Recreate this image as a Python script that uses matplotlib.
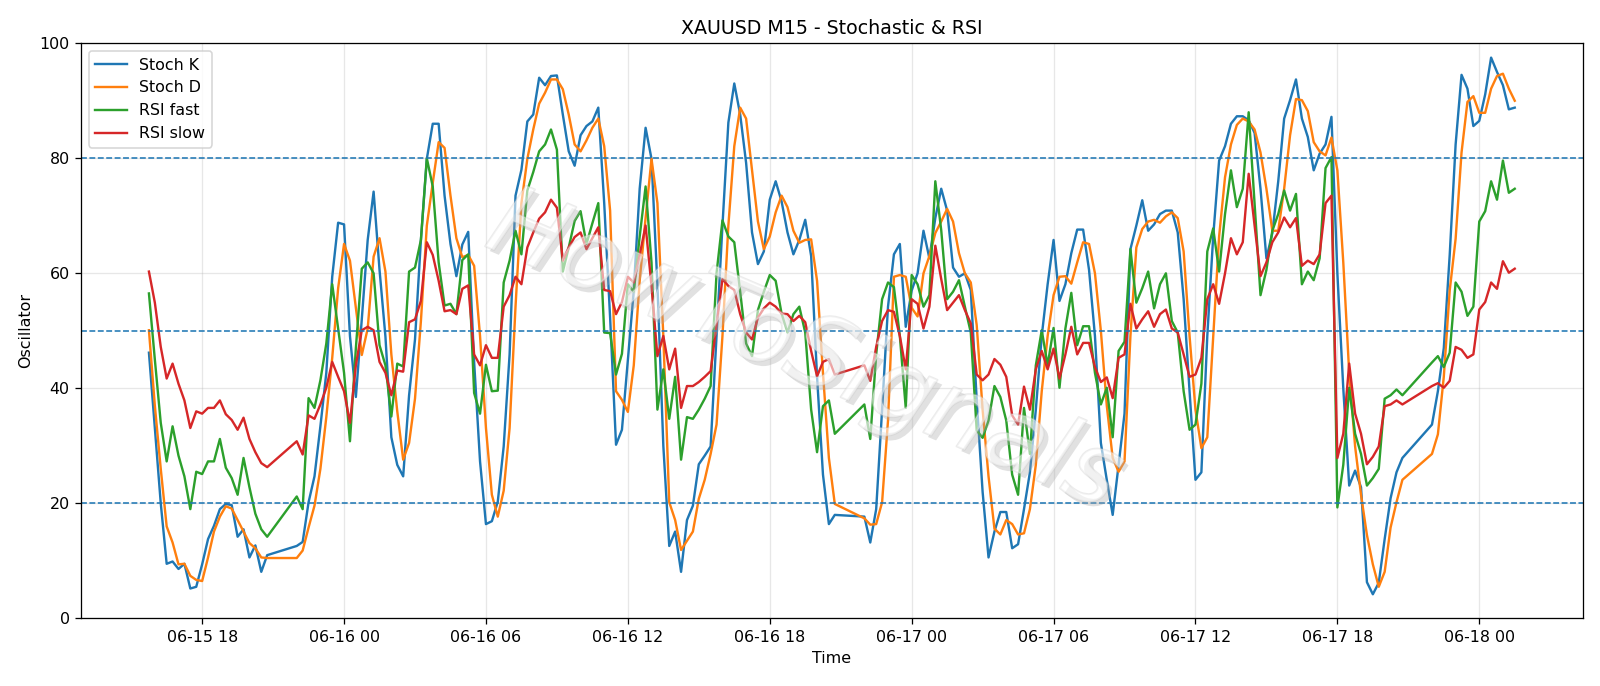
import matplotlib
matplotlib.use("Agg")
import matplotlib.pyplot as plt
import matplotlib.dates as mdates
import matplotlib.patheffects as pe
import pandas as pd

# sessions of M15 bars (daily break between 20:45 and 22:00)
sessions = [("2025-06-15 15:45", 21), ("2025-06-15 22:00", 92),
            ("2025-06-16 22:00", 92), ("2025-06-17 22:00", 15)]

stoch_k = [
    # 06-15 15:45 - 20:45
    46.2, 33, 20, 9.5, 9.9, 8.6, 9.5, 5.2, 5.5, 9.4, 13.8, 16.1, 19.0, 19.9, 19.7, 14.2, 15.5, 10.6, 12.7, 8.1, 11.0,
    # 06-15 22:00 - 06-16 20:45
    12.6, 13.3, 20.2, 24.7, 33.4, 42.7, 59.4, 68.8,
    68.5, 49.1, 38.5, 52, 65.8, 74.2, 60.6, 49.0, 31.5, 26.7, 24.7, 38.8,
    48.5, 65.8, 79.9, 86.0, 86.0, 73.5, 65.1, 59.5, 65.0, 67.2, 44.6, 27.3,
    16.4, 16.9, 20.3, 29.9, 45.9, 73.5, 78.0, 86.4, 87.6, 94.0, 92.7, 94.3,
    94.4, 87.6, 81.2, 78.7, 84.0, 85.6, 86.4, 88.8, 72.2, 52.3, 30.2, 32.8,
    45, 57, 74.7, 85.3, 79.9, 58, 30, 12.6, 15.1, 8.1, 17.1, 19.6,
    26.8, 28.3, 29.9, 49, 68.3, 86.2, 93.0, 87.6, 79.2, 67.1, 61.6, 63.8,
    72.8, 76.0, 72.5, 67.1, 63.3, 65.8, 69.3, 63, 42, 25, 16.4, 18.0,
    # 06-16 22:00 - 06-17 20:45
    17.7, 13.2, 19.0, 36.3, 54.2, 63.3, 65.1, 50.7,
    57, 60, 67.4, 62.6, 69.6, 74.7, 70.9, 61.0, 59.4, 60.0, 57.1, 38,
    22, 10.6, 15.1, 18.5, 18.5, 12.2, 12.9, 19.0, 25.4, 36.3, 49.1, 58.1,
    65.8, 55.2, 58.1, 63.5, 67.6, 67.6, 60.6, 49.1, 30.5, 24.1, 18.0, 26.7,
    35.6, 64.2, 68.3, 72.7, 67.4, 68.5, 70.3, 70.9, 70.9, 67.1, 55.5, 39.5,
    24.1, 25.4, 49.1, 66.4, 79.6, 82.1, 86.0, 87.3, 87.3, 86.6, 84.4, 74.7,
    62.6, 67, 76, 86.9, 90.1, 93.7, 86.9, 83.7, 77.9, 80.8, 82.4, 87.2,
    60, 40, 23.1, 25.7, 22.8, 6.3, 4.2, 6.2, 13.8, 20.9, 25.4, 27.9,
    # 06-17 22:00 - 06-18 01:30
    33.7, 39.5, 47, 63.2, 82.4, 94.5, 92.1, 85.6, 86.5, 91.1, 97.5, 95.0, 92.7, 88.5, 88.8,
]

stoch_d = [
    50.1, 37, 26, 16, 13.2, 9.4, 9.5, 7.4, 6.7, 6.5, 10.6, 15.1, 17.7, 19.5, 19.1, 17.1, 15.1, 13.1, 12.2, 10.6, 10.5,
    10.5, 11.8, 15.8, 19.6, 26.0, 35.0, 45.3, 57.4,
    65.1, 62.2, 54, 45.8, 50.4, 62.9, 66.1, 60.3, 45.9, 36, 27.6, 30.5,
    38.2, 51.7, 68.3, 75.7, 82.8, 81.8, 73.5, 66.1, 62.8, 63.2, 61.3, 49.1,
    33.1, 21.5, 17.7, 22.2, 33.1, 54.2, 72.2, 79.9, 85.0, 89.5, 91.4, 93.7,
    93.7, 92.0, 87.6, 82.4, 81.2, 83.1, 85.3, 86.9, 82.1, 70.9, 39.5, 38,
    35.9, 44, 58.7, 69.6, 79.9, 72.2, 49.1, 20.2, 17.1, 11.9, 13.5, 15.1,
    20.8, 24.1, 28.6, 33.7, 49.1, 68.3, 82.1, 88.8, 86.9, 77.9, 69.0, 64.2,
    66.4, 70.6, 73.5, 71.5, 67.4, 65.3, 65.8, 65.9, 58.7, 42.7, 27.9, 19.9,
    17.4, 16.3, 16.4, 20.2, 34.4, 59.4, 59.7, 59.4,
    54, 52.5, 60, 63, 67, 69, 71.2, 69.0, 63.5, 60.0, 58.4, 51,
    36.3, 24.7, 15.6, 14.6, 17.1, 16.4, 14.6, 14.8, 19.0, 26.7, 39.5, 49.1,
    56.2, 59.4, 59.5, 58.2, 61.9, 65.4, 65.1, 60.0, 50, 37, 27.9, 25.5,
    27.3, 49.1, 64.5, 67.7, 69.0, 69.3, 68.8, 69.9, 70.6, 69.6, 63.8, 49.1,
    36.3, 29.6, 31.5, 49.1, 66.4, 76.7, 82.4, 85.8, 86.9, 86.4, 85.0, 81,
    74.7, 67.4, 67.4, 74.7, 84.0, 90.3, 90.1, 88.2, 82.8, 81.2, 80.5, 83.6,
    77.9, 61.9, 42.7, 29.9, 21.5, 14.5, 9.4, 5.5, 8.1, 15.8, 20.2, 24.1,
    28.6, 32, 42, 57, 66, 81, 89.8, 90.8, 87.9, 87.9, 92.1, 94.3, 94.7, 92.1, 90.0,
]

rsi_fast = [
    56.5, 45, 34, 27.3, 33.4, 28.3, 24.7, 19.0, 25.5, 25.1, 27.3, 27.3, 31.2, 26.2, 24.4, 21.5, 27.9, 22.8, 18.2, 15.5, 14.2,
    21.2, 19.0, 38.3, 36.6, 41.4, 47.8, 58.1, 50.4,
    42.7, 30.8, 47, 60.8, 61.9, 60.0, 47.5, 44.0, 35.1, 44.3, 43.8, 60.3,
    61.0, 65.8, 80.0, 75.1, 61.9, 54.4, 54.7, 52.9, 62.3, 63.3, 39.2, 35.6,
    44.1, 39.5, 39.6, 58.4, 62.2, 67.4, 63.3, 74.4, 77.6, 81.2, 82.4, 85.0,
    81.5, 60.3, 64.5, 69.1, 70.8, 65.1, 68.7, 72.2, 49.7, 49.6, 42.4, 46,
    58.1, 56.8, 66.4, 75.1, 61.9, 36.3, 43.3, 34.7, 42.0, 27.6, 35.0, 34.7,
    36.3, 38.2, 40.4, 60.0, 69.2, 66.4, 65.4, 56.8, 47.8, 45.6, 53.6, 56.8,
    59.7, 58.7, 53, 49.7, 52.9, 54.2, 49.7, 36.3, 28.9, 36.9, 37.9, 32.1,
    37.2, 31.2, 45.9, 55.5, 58.4, 57.6, 49.1, 36.6,
    59.7, 58.1, 54.2, 56.2, 76.0, 67.5, 55.5, 56.8, 58.8, 54.2, 49.7, 32.7,
    31.4, 34.4, 40.4, 38.5, 34.4, 25.0, 21.5, 36.6, 28.6, 44.0, 50.1, 44.0,
    50.5, 40.1, 50.4, 56.6, 47.5, 50.8, 50.8, 42.7, 37.2, 40.1, 31.5, 46.5,
    48.1, 64.2, 54.9, 57.4, 60.3, 53.9, 58.1, 60.0, 51.7, 49.7, 39.5, 32.8,
    33.7, 40.8, 63.8, 67.8, 60.3, 70.3, 77.9, 71.5, 74.7, 88.0, 72, 56.2,
    60.6, 67.4, 70.3, 74.4, 70.9, 73.8, 58.1, 60.3, 58.8, 62.6, 78.3, 80.2,
    19.3, 26.7, 40.1, 32.1, 28.6, 23.1, 24.4, 26.0, 38.2, 38.8, 39.8, 38.8,
    44.5, 45.6, 43.7, 46.2, 58.4, 56.8, 52.6, 54.2, 69.0, 70.8, 76.0, 72.8, 79.6, 74.0, 74.7,
]

rsi_slow = [
    60.3, 54.9, 47.2, 41.7, 44.3, 40.8, 37.9, 33.1, 36.0, 35.6, 36.6, 36.6, 37.9, 35.5, 34.5, 32.8, 34.9, 31.2, 28.9, 27.0, 26.3,
    30.8, 28.5, 35.3, 34.7, 37.2, 40.1, 44.6, 42.0,
    39.5, 34.0, 44, 50.1, 50.7, 50.1, 44.6, 42.7, 38.8, 43.1, 42.9, 51.5,
    52.0, 55.2, 65.4, 63.2, 58.7, 53.4, 53.6, 52.9, 57.3, 57.9, 45.9, 44.0,
    47.5, 45.3, 45.3, 54.2, 56.2, 59.4, 58.1, 64.5, 67.1, 69.5, 70.6, 72.8,
    71.4, 62.2, 64.5, 66.3, 67.1, 64.2, 66.1, 68.0, 57.1, 56.9, 52.9, 55,
    59.4, 58.4, 63.2, 68.3, 57.8, 45.6, 49.1, 43.3, 46.9, 36.6, 40.4, 40.4,
    41.1, 42.0, 43.0, 51.0, 59.0, 57.8, 57.1, 52.9, 49.7, 48.5, 52.3, 53.9,
    54.9, 54.2, 53, 52.9, 51.7, 52.6, 51.5, 46.5, 42.1, 44.6, 45.1, 42.4,
    44.0, 41.3, 47.2, 51.7, 53.6, 53.3, 49.1, 43.3,
    55.5, 54.7, 50.4, 54.2, 64.8, 59, 53.6, 54.9, 56.2, 53.6, 51.3, 42.4,
    41.4, 42.4, 45.1, 44.1, 42.0, 35.3, 33.7, 40.3, 36.3, 43.3, 46.5, 43.3,
    46.9, 41.7, 45.9, 50.7, 45.9, 47.9, 47.9, 43.7, 41.1, 41.9, 38.3, 45.3,
    45.9, 54.7, 50.4, 52.0, 53.4, 50.7, 52.9, 53.7, 50.4, 49.7, 45.9, 42.0,
    42.4, 45.3, 55.5, 58.1, 54.7, 60.0, 66.1, 63.3, 65.4, 77.3, 68.3, 59.5,
    61.9, 65.4, 67.1, 69.7, 68.0, 69.6, 61.3, 62.2, 61.6, 63.3, 72.2, 73.5,
    27.9, 32.1, 44.3, 35.6, 32.1, 26.8, 28.1, 29.9, 36.9, 37.2, 37.9, 37.2,
    40.4, 40.9, 40.1, 41.3, 47.2, 46.7, 45.3, 45.9, 53.7, 55.0, 58.4, 57.3, 62.1, 60.1, 60.8,
]

levels = [20, 50, 80]

# build timestamps for each bar
times = pd.DatetimeIndex([])
for start, n in sessions:
    times = times.append(pd.date_range(start, periods=n, freq="15min"))

fig = plt.figure(figsize=(14, 6.0025), dpi=1600 / 14)
ax = fig.add_axes([0.0504, 0.0985, 0.9390, 0.8385])

ax.plot(times, stoch_k, label="Stoch K")
ax.plot(times, stoch_d, label="Stoch D")
ax.plot(times, rsi_fast, label="RSI fast")
ax.plot(times, rsi_slow, label="RSI slow")
for lv in levels:
    ax.axhline(lv, linestyle="--", linewidth=1, color="C0")

# watermark (ghost text on top of the lines)
ax.text(0.482, 0.463, "HowToSignals", transform=ax.transAxes, fontsize=62,
        color="white", alpha=0.35, rotation=-23, ha="center", va="center",
        fontstyle="italic", zorder=5,
        path_effects=[pe.SimplePatchShadow(offset=(3, -3), shadow_rgbFace="#aaaaaa", alpha=0.35),
                      pe.withStroke(linewidth=1.2, foreground="#c8c8c8")])

ax.set_ylim(0, 100)
ax.xaxis.set_major_locator(mdates.HourLocator(byhour=[0, 6, 12, 18]))
ax.xaxis.set_major_formatter(mdates.DateFormatter("%m-%d %H"))
ax.grid(alpha=0.3)
ax.set_title("XAUUSD M15 - Stochastic & RSI")
ax.set_xlabel("Time")
ax.set_ylabel("Oscillator")
ax.legend(loc="upper left")

fig.savefig("out.png")
